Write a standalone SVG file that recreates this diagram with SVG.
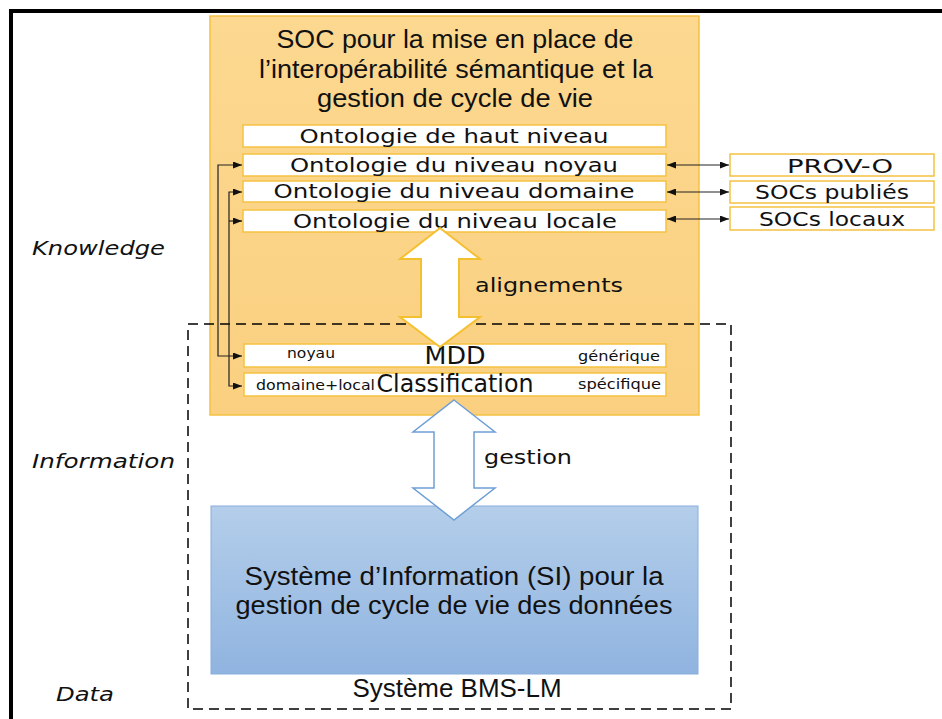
<svg xmlns="http://www.w3.org/2000/svg" width="942" height="719" viewBox="0 0 942 719">
<style>
.title{font-family:"Liberation Sans",Arial,sans-serif;font-size:26px;fill:#111;text-anchor:middle}
.ont{font-family:"DejaVu Sans",Verdana,sans-serif;font-size:20px;fill:#111;text-anchor:middle}
.small{font-family:"DejaVu Sans",Verdana,sans-serif;font-size:14px;fill:#111}
.big{font-family:"DejaVu Sans",Verdana,sans-serif;font-size:24px;fill:#111;text-anchor:middle}
.lay{font-family:"DejaVu Sans",Verdana,sans-serif;font-size:19px;font-style:italic;fill:#111}
.ibox{fill:#fff;stroke:#F5C242;stroke-width:1.5}
.conn{fill:none;stroke:#222;stroke-width:1.2}
</style>
<defs>
<marker id="ah" markerWidth="9" markerHeight="7" refX="9" refY="3.5" orient="auto-start-reverse" markerUnits="userSpaceOnUse">
<path d="M0,0 L9,3.5 L0,7 Z" fill="#111"/>
</marker>
<linearGradient id="og" x1="0" y1="0" x2="0" y2="1">
<stop offset="0" stop-color="#FCD890"/><stop offset="1" stop-color="#FAD080"/>
</linearGradient>
<linearGradient id="bg" x1="0" y1="0" x2="0" y2="1">
<stop offset="0" stop-color="#B4CEEA"/><stop offset="1" stop-color="#90B4E0"/>
</linearGradient>
</defs>
<rect x="11" y="11" width="1000" height="1000" fill="#fff" stroke="#000" stroke-width="4"/>

<g id="soc">
<rect x="210" y="16" width="489" height="399" fill="url(#og)" stroke="#F5C142" stroke-width="1.5"/>
<text class="title" x="455" y="48" textLength="357" lengthAdjust="spacingAndGlyphs">SOC pour la mise en place de</text>
<text class="title" x="456" y="78" textLength="394" lengthAdjust="spacingAndGlyphs">l’interopérabilité sémantique et la</text>
<text class="title" x="455" y="107" textLength="276" lengthAdjust="spacingAndGlyphs">gestion de cycle de vie</text>
</g>

<g id="haut"><rect class="ibox" x="243" y="125" width="423" height="22"/><text class="ont" x="454" y="143" textLength="309" lengthAdjust="spacingAndGlyphs">Ontologie de haut niveau</text></g>
<g id="noyau"><rect class="ibox" x="243" y="154" width="423" height="22"/><text class="ont" x="454" y="172" textLength="328" lengthAdjust="spacingAndGlyphs">Ontologie du niveau noyau</text></g>
<g id="domaine"><rect class="ibox" x="243" y="181" width="423" height="21"/><text class="ont" x="454" y="198" textLength="361" lengthAdjust="spacingAndGlyphs">Ontologie du niveau domaine</text></g>
<g id="locale"><rect class="ibox" x="243" y="210" width="423" height="22"/><text class="ont" x="455" y="228" textLength="324" lengthAdjust="spacingAndGlyphs">Ontologie du niveau locale</text></g>

<g id="provo"><rect class="ibox" x="730" y="154" width="204" height="22"/><text class="ont" x="840" y="173" textLength="106" lengthAdjust="spacingAndGlyphs">PROV-O</text></g>
<g id="socpub"><rect class="ibox" x="730" y="181" width="204" height="22"/><text class="ont" x="832" y="199" textLength="154" lengthAdjust="spacingAndGlyphs">SOCs publiés</text></g>
<g id="socloc"><rect class="ibox" x="730" y="207" width="204" height="23"/><text class="ont" x="832" y="226" textLength="146" lengthAdjust="spacingAndGlyphs">SOCs locaux</text></g>

<g id="bms">
<rect x="188" y="324" width="543" height="385" fill="none" stroke="#000" stroke-width="1.5" stroke-dasharray="10,6"/>
<text class="title" x="457" y="697" font-size="20" textLength="209" lengthAdjust="spacingAndGlyphs">Système BMS-LM</text>
</g>

<g id="mdd"><rect class="ibox" x="244" y="344" width="422" height="23"/>
<text class="small" x="287" y="358" textLength="48" lengthAdjust="spacingAndGlyphs">noyau</text>
<text class="big" x="455" y="364" textLength="61" lengthAdjust="spacingAndGlyphs">MDD</text>
<text class="small" x="578" y="361" textLength="82" lengthAdjust="spacingAndGlyphs">générique</text></g>
<g id="classification"><rect class="ibox" x="244" y="373" width="422" height="23"/>
<text class="small" x="256" y="390" textLength="119" lengthAdjust="spacingAndGlyphs">domaine+local</text>
<text class="big" x="455" y="392" textLength="157" lengthAdjust="spacingAndGlyphs">Classification</text>
<text class="small" x="578" y="389" textLength="83" lengthAdjust="spacingAndGlyphs">spécifique</text></g>

<g id="si">
<rect x="211" y="506" width="487" height="168" fill="url(#bg)" stroke="#88AEDB" stroke-width="1"/>
<text class="title" x="454" y="585" font-size="25" textLength="419" lengthAdjust="spacingAndGlyphs">Système d’Information (SI) pour la</text>
<text class="title" x="454" y="614" font-size="25" textLength="437" lengthAdjust="spacingAndGlyphs">gestion de cycle de vie des données</text>
</g>

<g id="labels">
<text class="lay" x="32" y="255" textLength="133" lengthAdjust="spacingAndGlyphs">Knowledge</text>
<text class="lay" x="32" y="468" textLength="143" lengthAdjust="spacingAndGlyphs">Information</text>
<text class="lay" x="56" y="701" textLength="58" lengthAdjust="spacingAndGlyphs">Data</text>
</g>

<g id="connectors">
<path class="conn" d="M242,165 H218 V356 H242" marker-start="url(#ah)" marker-end="url(#ah)"/>
<path class="conn" d="M242,192 H229 V386 H242" marker-start="url(#ah)" marker-end="url(#ah)"/>
<path class="conn" d="M229,221 H242" marker-end="url(#ah)"/>
<path class="conn" d="M667,165 H729" marker-start="url(#ah)" marker-end="url(#ah)"/>
<path class="conn" d="M667,192 H729" marker-start="url(#ah)" marker-end="url(#ah)"/>
<path class="conn" d="M667,219 H729" marker-start="url(#ah)" marker-end="url(#ah)"/>
<g id="alignements">
<path d="M440,228 L480,259 L459,259 L459,317 L480,317 L440,347 L400,317 L421,317 L421,259 L400,259 Z" fill="#fff" stroke="#F5C030" stroke-width="2" stroke-linejoin="miter"/>
<text class="ont" x="549" y="292" textLength="148" lengthAdjust="spacingAndGlyphs">alignements</text>
</g>
<g id="gestion">
<path d="M454,400 L495,432 L474,432 L474,488 L495,488 L454,520 L413,488 L434,488 L434,432 L413,432 Z" fill="#fff" stroke="#6F9FD6" stroke-width="1.5"/>
<text class="ont" x="528" y="464" textLength="88" lengthAdjust="spacingAndGlyphs">gestion</text>
</g>
</g>
</svg>
